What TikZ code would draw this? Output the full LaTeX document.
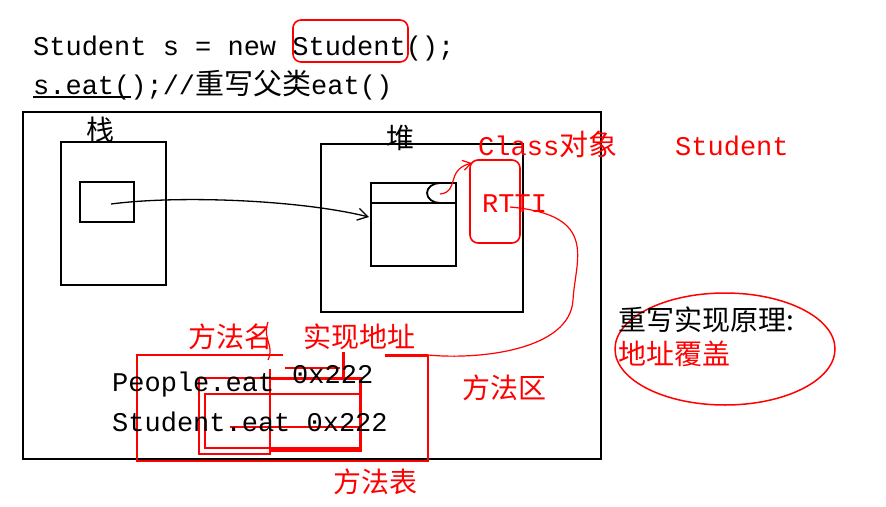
\documentclass[tikz,border=0pt]{standalone}
\usepackage{fontspec}
\usetikzlibrary{arrows.meta}
\setmonofont{Liberation Mono}
\newfontfamily\cjk{Noto Sans CJK SC}
\begin{document}
\begin{tikzpicture}[x=1pt,y=-1pt,
  mono/.style={anchor=base west,inner sep=0pt,font=\fontsize{27}{27}\ttfamily},
  zh/.style={anchor=base west,inner sep=0pt,font=\fontsize{28}{28}\cjk},
  blk/.style={draw=black,line width=2.2pt},
  rd/.style={draw=red,line width=1.6pt},
  rdt/.style={draw=red,line width=3pt}]
\useasboundingbox (0,0) rectangle (886,506);
% code lines
\node[mono] (l1) at (33,55) {Student s = new Student();};
\draw[rd,rounded corners=8pt] (293,20) rectangle (408,62);
\node[mono] (l2) at (33,94) {s.eat();//{\fontsize{29}{29}\cjk 重写父类}eat()};
\draw[line width=1.5pt] (33,97) -- (131,97);
% outer
\draw[blk] (23,112) rectangle (601,459);
% stack
\node[zh] (zhan) at (86,140) {栈};
\draw[blk] (61,142) rectangle (166,285);
\draw[blk] (80,182) rectangle (134,222);
\coordinate (ref) at (111,204);
% heap
\node[zh] (dui) at (386,148) {堆};
\draw[blk] (321,144) rectangle (523,312);
\draw[blk] (371,183) rectangle (456,266);
\draw[blk] (371,203) -- (456,203);
\draw[line width=1.8pt] (456,183) -- (440,183) arc[start angle=270,end angle=90,x radius=13,y radius=10] -- (456,203);
\coordinate (obj) at (369,217);
\draw[line width=1.3pt,-{Straight Barb[length=10pt,width=12pt]}] (ref) .. controls (180,195) and (300,200) .. (obj);
% class object
\node[anchor=base west,inner sep=0pt,text=red,font=\fontsize{27}{27}\ttfamily] (cls) at (478,155) {Class{\fontsize{29}{29}\cjk 对象}};
\node[anchor=base west,inner sep=0pt,text=red,font=\fontsize{27}{27}\ttfamily] (stu) at (675,155) {Student};
\draw[rd,rounded corners=8pt] (470,160) rectangle (520,243);
\node[anchor=base west,inner sep=0pt,text=red,font=\fontsize{27}{27}\ttfamily] (rtti) at (482,212) {RTTI};
\draw[red,line width=1.2pt,-{Straight Barb[length=8pt,width=10pt]}] (440,194) .. controls (460,192) and (445,170) .. (472,163);
% method area
\node[zh,text=red] (mname) at (188,347) {方法名};
\node[zh,text=red] (maddr) at (303,347) {实现地址};
\node[zh,text=red] (marea) at (462,398) {方法区};
\node[zh,text=red] (mtab) at (333,492) {方法表};
\draw[red,line width=1.2pt] (510,207) .. controls (600,215) and (575,260) .. (573,300) .. controls (570,350) and (480,360) .. (428,355);
\draw[rd] (283,355) -- (137,355) -- (137,461) -- (428,461) -- (428,355);
\draw[rdt] (385,355) -- (428,355);
\draw[red,line width=1.2pt] (268,322) .. controls (262,340) and (275,345) .. (268,360);
\draw[rd] (199,378) -- (199,454) -- (270,454) -- (270,369);
\draw[rd] (199,378) -- (340,378);
\draw[rdt] (270,378) -- (360,378) -- (360,450) -- (270,450);
\draw[rd] (205,394) rectangle (360,448);
\draw[rd] (230,427) -- (362,427);
\draw[rdt] (343,352) -- (343,380);
\draw[rd] (285,368) -- (340,368);
\node[mono] (pe) at (112,391) {People.eat};
\node[mono] (pa) at (292,383) {0x222};
\node[mono] (se) at (112,431) {Student.eat 0x222};
% principle
\draw[red,line width=1.5pt] (725,349) ellipse[x radius=110,y radius=56];
\node[zh] (p1) at (618,330) {重写实现原理:};
\node[zh,text=red] (p2) at (618,364) {地址覆盖};
\end{tikzpicture}
\end{document}
